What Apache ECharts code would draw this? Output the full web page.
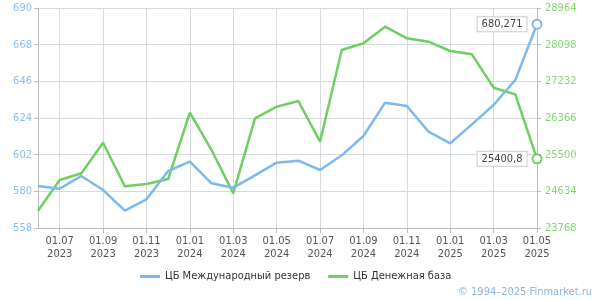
<!DOCTYPE html>
<html><head><meta charset="utf-8">
<script src="https://cdn.jsdelivr.net/npm/echarts@6/dist/echarts.min.js"></script>
<style>html,body{margin:0;padding:0;background:#fff}#c{width:600px;height:300px}</style>
</head><body><div id="c"></div>
<script>
const categories = ["01.06.2023","01.07.2023","01.08.2023","01.09.2023","01.10.2023","01.11.2023","01.12.2023",
"01.01.2024","01.02.2024","01.03.2024","01.04.2024","01.05.2024","01.06.2024","01.07.2024","01.08.2024","01.09.2024","01.10.2024","01.11.2024","01.12.2024",
"01.01.2025","01.02.2025","01.03.2025","01.04.2025","01.05.2025"];
const reserves = [583.2,581.6,589.2,580.8,568.4,575.2,592.2,597.8,584.8,582.2,589.6,597.2,598.4,592.8,601.6,613.2,633.2,631.2,615.8,608.8,620.2,631.8,646.8,680.271];
const base = [24177,24902,25060,25783,24753,24807,24925,26492,25610,24587,26358,26633,26768,25807,27972,28130,28523,28248,28169,27948,27870,27082,26925,25400.8];
const leftTicks = {min:558, max:690, interval:22};
const rightTicks = {min:23768, max:28964, interval:866};
const names = ["ЦБ Международный резерв","ЦБ Денежная база"];

const blue = '#7cb9ef', green = '#6fcf62';
const font = '"DejaVu Sans Condensed", "Liberation Sans", sans-serif';
function withLast(arr, color, fmt){
  return arr.map((v,i)=> i===arr.length-1 ? {
    value:v, symbol:'circle', symbolSize:9,
    itemStyle:{color:'#fff', borderColor:color, borderWidth:2},
    label:{show:true, position:'left', distance:5, formatter:fmt, color:'#444', fontFamily:font, fontSize:11,
      backgroundColor:'#fff', borderColor:'#ccc', borderWidth:1, padding:[2,4,1,4]}
  } : v);
}
const oddIdx = (i)=> i%2===1;
const chart = echarts.init(document.getElementById('c'));
chart.setOption({
  animation:false,
  textStyle:{fontFamily:font},
  grid:{left:38, right:63, top:8, bottom:72},
  legend:{bottom:13, left:135, itemWidth:20, itemHeight:3, itemGap:18, icon:'rect',
    textStyle:{fontFamily:font, fontSize:11, color:'#333'}, data:names},
  xAxis:{type:'category', data:categories, boundaryGap:false,
    axisLine:{lineStyle:{color:'#b8bec4'}},
    axisTick:{interval:oddIdx, length:5, lineStyle:{color:'#b8bec4'}},
    splitLine:{show:true, interval:oddIdx, lineStyle:{color:'#d5dadf'}},
    axisLabel:{interval:oddIdx, color:'#555', fontFamily:font, fontSize:11, lineHeight:13, margin:7,
      formatter:(v)=>v.slice(0,5)+'\n'+v.slice(6)}},
  yAxis:[
    {type:'value', position:'left', min:leftTicks.min, max:leftTicks.max, interval:leftTicks.interval,
     axisLine:{show:true, lineStyle:{color:'#b8bec4'}}, axisTick:{show:true, length:4, lineStyle:{color:'#b8bec4'}},
     splitLine:{lineStyle:{color:'#d5dadf'}},
     axisLabel:{color:'#8dbdf0', fontFamily:font, fontSize:11, margin:6, formatter:(v)=>String(v)}},
    {type:'value', position:'right', min:rightTicks.min, max:rightTicks.max, interval:rightTicks.interval,
     axisLine:{show:true, lineStyle:{color:'#b8bec4'}}, axisTick:{show:true, length:4, lineStyle:{color:'#b8bec4'}},
     splitLine:{show:false},
     axisLabel:{color:'#7fd96e', fontFamily:font, fontSize:11, margin:8, formatter:(v)=>String(v)}}
  ],
  series:[
    {name:names[0], type:'line', yAxisIndex:0, symbol:'none', color:blue, lineStyle:{width:2.5, color:blue},
     data:withLast(reserves, blue, ()=> '680,271'), z:3},
    {name:names[1], type:'line', yAxisIndex:1, symbol:'none', color:green, lineStyle:{width:2.5, color:green},
     data:withLast(base, green, ()=> '25400,8'), z:2}
  ],
  graphic:[{type:'text', right:8, bottom:2, style:{text:'© 1994–2025 Finmarket.ru', fill:'#8fb5dd', font:'11px "DejaVu Sans Condensed", "Liberation Sans", sans-serif'}}]
});
</script></body></html>
